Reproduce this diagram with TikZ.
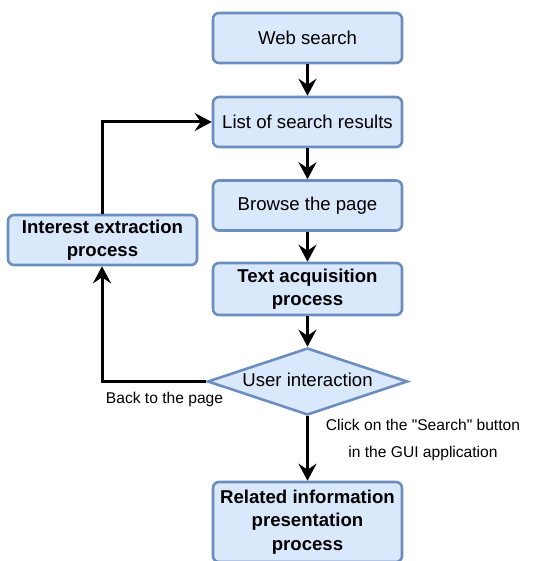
\documentclass[tikz,border=0pt]{standalone}
\usepackage{fontspec}
\setmainfont{Liberation Sans}
\usetikzlibrary{arrows.meta,shapes.geometric}
\definecolor{boxfill}{HTML}{DAE8FC}
\definecolor{boxline}{HTML}{6C8EBF}

\begin{document}
\begin{tikzpicture}[x=1pt, y=-1pt]
\tikzset{
    step box/.style={rectangle, rounded corners=6pt, draw=boxline, fill=boxfill, line width=2.6pt,
        minimum width=189pt, minimum height=50pt, inner sep=2pt, align=center,
        font=\fontsize{18.6}{23.5}\selectfont},
    choice/.style={diamond, draw=boxline, fill=boxfill, line width=2.6pt, shape aspect=3,
        minimum width=200pt, minimum height=67pt, inner sep=0pt,
        font=\fontsize{18.6}{23.5}\selectfont},
    flow/.style={line width=3pt, -{Stealth[length=17pt, width=18pt, inset=6pt]}},
    note/.style={font=\fontsize{15.6}{27}\selectfont, align=center, inner sep=0pt}
}
\useasboundingbox (0,0) rectangle (558,561);

% --- nodes ---
\node[step box] (web) at (307.5,38) {Web search};
\node[step box] (list) at (307.5,122) {List of search results};
\node[step box] (browse) at (307.5,205.5) {Browse the page};
\node[step box, minimum height=52pt] (text) at (307.5,289) {\textbf{Text acquisition}\\\textbf{process}};
\node[choice] (user) at (307.5,381.5) {\raisebox{3pt}{User interaction}};
\node[step box, minimum height=80pt] (related) at (307.5,522) {\textbf{Related information}\\\textbf{presentation}\\\textbf{process}};
\node[step box] (interest) at (102.5,240) {\textbf{Interest extraction}\\\textbf{process}};

\coordinate (backcorner) at (102,381.5);
\coordinate (upcorner) at (102,122);

% --- edges (main column) ---
\draw[flow] (web)--(list);
\draw[flow] (list)--(browse);
\draw[flow] (browse)--(text);
\draw[flow] (text)--(user);
\draw[flow] (user)--(related);

% --- edges (loop back) ---
\draw[flow] (user.west)--(backcorner)--(interest.south -| backcorner);
\draw[flow] (interest.north -| upcorner)--(upcorner)--(list.west);

% --- labels ---
\node[note] (backlabel) at (164.5,399) {Back to the page};
\node[note] (clicklabel) at (423,439.5) {Click on the \textquotedbl Search\textquotedbl\ button\\in the GUI application};
\end{tikzpicture}
\end{document}
